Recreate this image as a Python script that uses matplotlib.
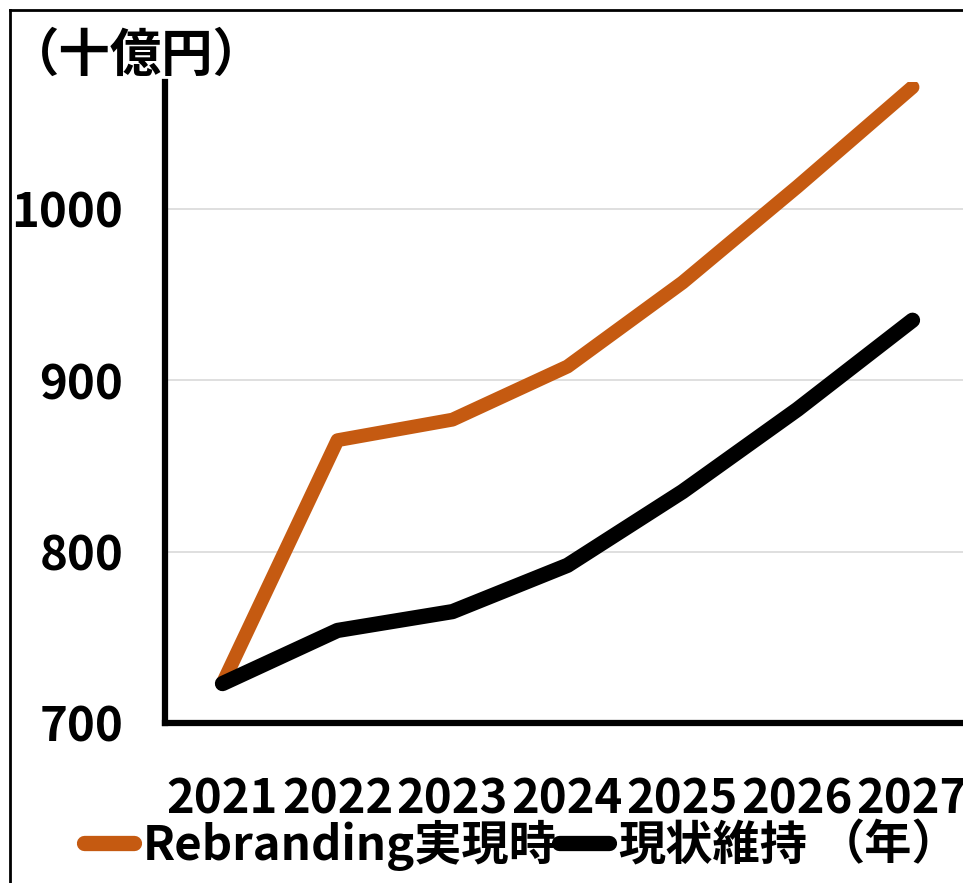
import matplotlib
matplotlib.use("Agg")
import matplotlib.pyplot as plt
from matplotlib.lines import Line2D

plt.rcParams['font.family'] = ['Noto Sans CJK JP', 'DejaVu Sans']
plt.rcParams['font.weight'] = 'bold'

years = ["2021", "2022", "2023", "2024", "2025", "2026", "2027"]
rebranding = [723, 865, 877, 908, 957, 1013, 1071]
status_quo = [723, 754, 765, 792, 835, 883, 935]
y_ticks = [700, 800, 900, 1000]

label_rebrand = "Rebranding実現時"
label_status = "現状維持"
unit_y = "（十億円）"
unit_x = "（年）"

ORANGE = "#C55A11"
W, H = 963, 883
fig = plt.figure(figsize=(W / 100, H / 100), dpi=100)

# axes box in pixel terms
left, right, top, bottom = 165, 970, 82, 723
ax = fig.add_axes([left / W, 1 - bottom / H, (right - left) / W, (bottom - top) / H])

x = list(range(len(years)))
ax.plot(x, rebranding, color=ORANGE, lw=10, solid_capstyle='round', solid_joinstyle='round', zorder=3)
ax.plot(x, status_quo, color="black", lw=11, solid_capstyle='round', solid_joinstyle='round', zorder=4)

ax.set_xlim(-0.5, 6.5)
ax.set_ylim(700, 1074)
ax.set_xticks(x)
ax.set_xticklabels(years)
ax.set_yticks(y_ticks)
ax.tick_params(axis='both', length=0, labelsize=34)
ax.tick_params(axis='y', pad=30)
ax.tick_params(axis='x', pad=38)
for lbl in ax.get_xticklabels() + ax.get_yticklabels():
    lbl.set_fontweight('bold')

ax.grid(axis='y', color='#d9d9d9', lw=1.2, zorder=0)
ax.set_axisbelow(True)
for s in ['top', 'right']:
    ax.spines[s].set_visible(False)
for s in ['left', 'bottom']:
    ax.spines[s].set_linewidth(4.5)
    ax.spines[s].set_capstyle('projecting')

# units
fig.text(8 / W, 1 - 55 / H, unit_y, fontsize=37, fontweight='bold', va='center', ha='left')
fig.text(818 / W, 1 - 845 / H, unit_x, fontsize=34, fontweight='bold', va='center', ha='left')

# legend
handles = [
    Line2D([], [], color=ORANGE, lw=11, solid_capstyle='round'),
    Line2D([], [], color='black', lw=11, solid_capstyle='round'),
]
leg = fig.legend(handles, [label_rebrand, label_status], loc='center left',
                 bbox_to_anchor=(84 / W, 1 - 845 / H), ncol=2, frameon=False,
                 fontsize=34, handlelength=1.05, handletextpad=0.2,
                 columnspacing=0.05, borderpad=0, borderaxespad=0)
for t in leg.get_texts():
    t.set_fontweight('bold')

# outer frame edge
fig.add_artist(Line2D([10 / W, 10 / W], [0, 1 - 10 / H], color='black', lw=2, transform=fig.transFigure))
fig.add_artist(Line2D([10 / W, 1], [1 - 10 / H, 1 - 10 / H], color='black', lw=2, transform=fig.transFigure))

fig.savefig("out.png", dpi=100)
